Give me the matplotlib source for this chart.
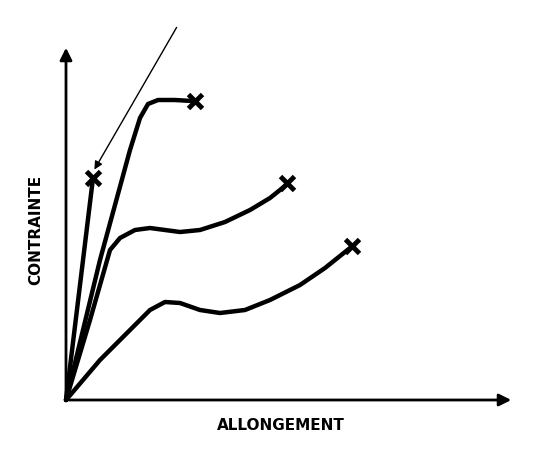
import matplotlib
matplotlib.use("Agg")
import matplotlib.pyplot as plt

# schematic stress-strain curves (x = elongation, y = stress), arbitrary units
brittle_x = [0, 27]
brittle_y = [0, 222]
hard_x = [0, 34, 64, 74, 82, 92, 109, 126]
hard_y = [0, 140, 250, 282, 296, 300, 300, 299]
medium_x = [0, 24, 44, 54, 69, 84, 99, 114, 134, 159, 184, 204, 219]
medium_y = [0, 80, 150, 162, 170, 172, 170, 168, 170, 178, 190, 202, 214]
soft_x = [0, 34, 64, 84, 99, 114, 134, 154, 179, 204, 234, 259, 284]
soft_y = [0, 40, 70, 90, 98, 97, 90, 87, 90, 100, 115, 132, 152]
break_x = [27, 129, 221, 286]
break_y = [222, 299, 217, 154]

fig = plt.figure(figsize=(5.41, 4.49), dpi=100)
ax = fig.add_axes([0, 0, 1, 1])
ax.set_xlim(-66, 475)
ax.set_ylim(-49, 400)
ax.axis("off")

ax.annotate("", xy=(448, 0), xytext=(0, 0),
            arrowprops=dict(arrowstyle="-|>", color="black", lw=2, mutation_scale=18))
ax.annotate("", xy=(0, 355), xytext=(0, 0),
            arrowprops=dict(arrowstyle="-|>", color="black", lw=2, mutation_scale=18))

for xs, ys in [(brittle_x, brittle_y), (hard_x, hard_y), (medium_x, medium_y), (soft_x, soft_y)]:
    ax.plot(xs, ys, color="black", lw=3.2, solid_capstyle="round", solid_joinstyle="round")
ax.plot(break_x, break_y, "x", color="black", ms=10, mew=3.5)

ax.annotate("", xy=(27, 228), xytext=(112, 375),
            arrowprops=dict(arrowstyle="-|>", color="black", lw=1, mutation_scale=12))

ax.text(215, -25, "ALLONGEMENT", ha="center", va="center", fontsize=11,
        fontweight="bold", family="DejaVu Sans")
ax.text(-30, 170, "CONTRAINTE", ha="center", va="center", rotation=90, fontsize=11,
        fontweight="bold", family="DejaVu Sans")

fig.savefig("out.png", dpi=100, facecolor="white")
